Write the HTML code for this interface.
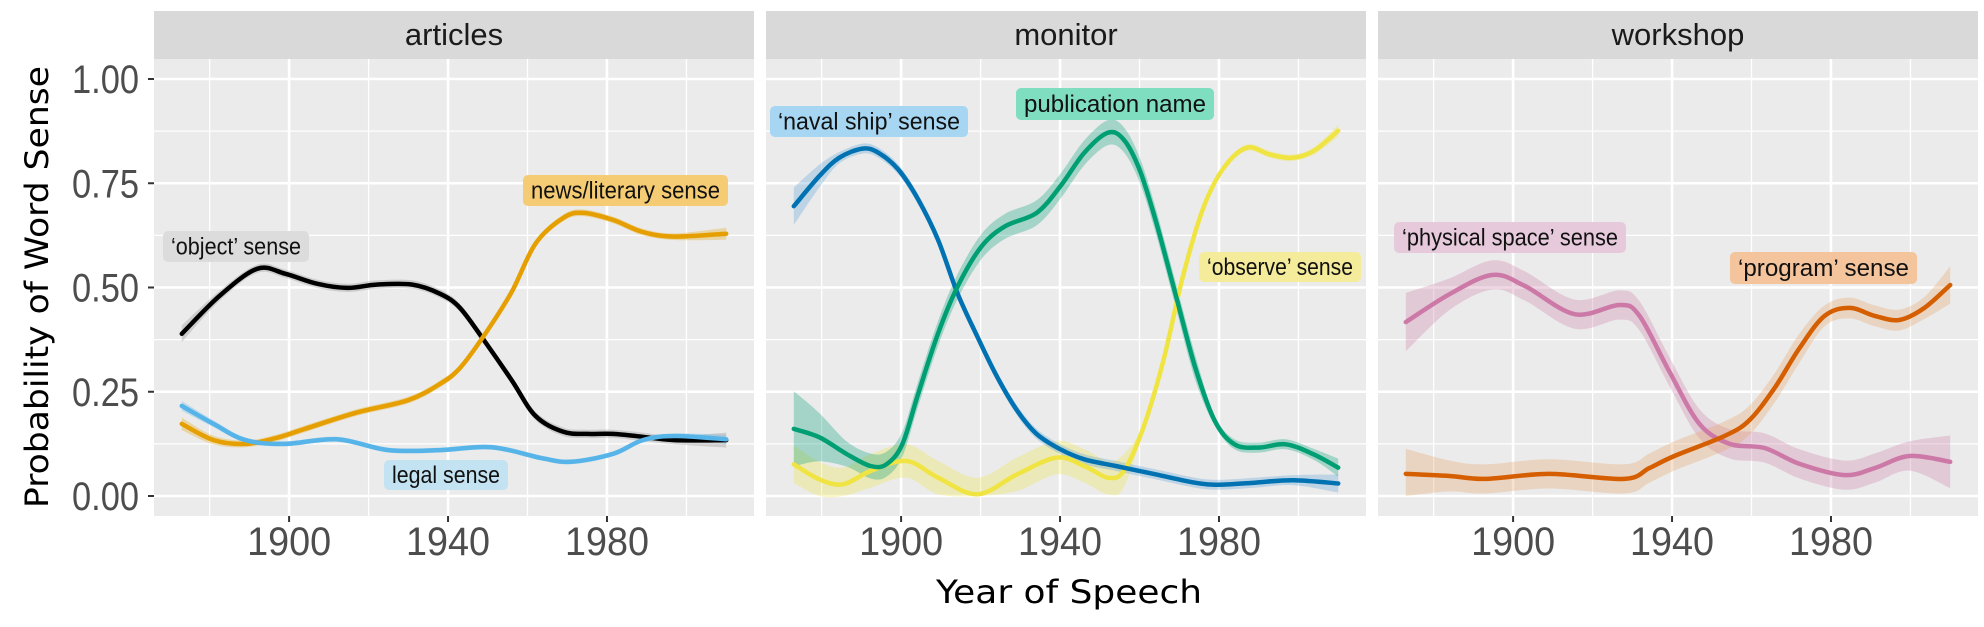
<!DOCTYPE html>
<html><head><meta charset="utf-8"><style>
html,body{margin:0;padding:0;background:#fff;}
svg{display:block;}
</style></head><body>
<svg id="chart" width="1984" height="627" xmlns="http://www.w3.org/2000/svg" font-family="Liberation Sans, sans-serif"></svg>
<script>
// ---- data ----
const panelNames = ["articles","monitor","workshop"];
const yTicks = [0, 0.25, 0.5, 0.75, 1.0];
const yTickLabels = ["0.00","0.25","0.50","0.75","1.00"];
const xTicks = [1900, 1940, 1980];
const xMinor = [1880, 1920, 1960, 2000];

const objYears = [1873,1882.5,1892,1899,1907,1914.7,1922,1931,1938,1943,1949,1956,1962,1969,1975,1981.5,1989,1997,2010];
const objVals  = [0.389,0.48,0.545,0.533,0.509,0.499,0.507,0.507,0.485,0.451,0.374,0.278,0.192,0.154,0.149,0.149,0.142,0.134,0.134];
const newsYears = [1873,1881,1889,1896.7,1904,1917,1930,1938,1943,1949,1956,1962,1969,1974,1981.5,1989,1997,2010];
const newsVals  = [0.173,0.134,0.125,0.139,0.161,0.2,0.23,0.269,0.307,0.384,0.489,0.605,0.667,0.679,0.662,0.633,0.622,0.629];
const legalYears = [1873,1881,1889,1899,1912,1925,1938,1951,1963.5,1971,1981.5,1989,1997,2010];
const legalVals  = [0.216,0.173,0.134,0.125,0.136,0.11,0.11,0.117,0.091,0.082,0.101,0.134,0.144,0.136];

const navalYears = [1873,1879.4,1884.4,1890.3,1894.3,1899.3,1904.3,1909.3,1914.2,1919.2,1924.2,1929.2,1934.1,1940.1,1946.1,1954,1964,1974,1980,1989,1998.8,2010];
const navalVals  = [0.695,0.767,0.811,0.833,0.823,0.783,0.711,0.614,0.486,0.382,0.285,0.205,0.149,0.112,0.088,0.072,0.052,0.032,0.027,0.032,0.038,0.03];
const pubYears = [1873,1879.4,1886.4,1892.3,1896.3,1900.3,1904.3,1909.3,1914.2,1920.2,1926.2,1934.1,1940.1,1946.1,1952,1956,1960,1964,1969,1974,1978.9,1983.9,1989.9,1996.8,2003.8,2010];
const pubVals  = [0.161,0.141,0.1,0.072,0.076,0.124,0.245,0.39,0.502,0.598,0.647,0.679,0.743,0.823,0.871,0.855,0.783,0.663,0.486,0.309,0.181,0.124,0.116,0.124,0.1,0.068];
const obsYears = [1873,1879.4,1885.4,1892.3,1901.3,1909.3,1919.2,1929.2,1939.1,1946.1,1952,1956,1961,1966,1970.9,1975.9,1980.9,1986.9,1992.8,1998.3,2003.8,2010];
const obsVals  = [0.076,0.04,0.028,0.06,0.084,0.044,0.004,0.052,0.092,0.072,0.044,0.06,0.165,0.325,0.526,0.687,0.783,0.835,0.819,0.811,0.827,0.876];

const physYears = [1873,1884,1894.7,1902.9,1915.5,1926.8,1931.8,1939.4,1946.9,1954.5,1963.3,1972.1,1983.4,1991,1999.7,2010];
const physVals  = [0.417,0.484,0.53,0.504,0.436,0.458,0.432,0.297,0.173,0.125,0.115,0.077,0.05,0.067,0.096,0.082];
const progYears = [1873,1884,1893,1909,1928,1934.3,1940.6,1953.2,1959.5,1965.8,1972.1,1978.4,1984.7,1991,1997.2,2003.5,2010];
const progVals  = [0.053,0.048,0.041,0.053,0.041,0.067,0.096,0.144,0.182,0.259,0.355,0.432,0.451,0.432,0.422,0.451,0.506];

const series = [
 {panel:0,name:"object-sense-line",years:objYears,vals:objVals,color:"#000000",band:"#888888",se:0.01,seStart:0.02,cut:3000,seLate:0.01},
 {panel:0,name:"news-literary-sense-line",years:newsYears,vals:newsVals,color:"#E69F00",band:"#E69F00",se:0.008,seStart:0.015,cut:3000,seLate:0.008},
 {panel:0,name:"legal-sense-line",years:legalYears,vals:legalVals,color:"#56B4E9",band:"#56B4E9",se:0.006,seStart:0.012,cut:3000,seLate:0.006},
 {panel:1,name:"observe-sense-line",years:obsYears,vals:obsVals,color:"#F0E442",band:"#F0E442",se:0.04,seStart:0.045,cut:1957,seLate:0.008},
 {panel:1,name:"naval-ship-sense-line",years:navalYears,vals:navalVals,color:"#0072B2",band:"#56A0D8",se:0.012,seStart:0.045,cut:3000,seLate:0.012},
 {panel:1,name:"publication-name-line",years:pubYears,vals:pubVals,color:"#009E73",band:"#009E73",se:0.03,seStart:0.09,cut:1975,seLate:0.012},
 {panel:2,name:"physical-space-sense-line",years:physYears,vals:physVals,color:"#CC79A7",band:"#CC79A7",se:0.035,seStart:0.07,cut:3000,seLate:0.035},
 {panel:2,name:"program-sense-line",years:progYears,vals:progVals,color:"#D55E00",band:"#E69F60",se:0.035,seStart:0.06,cut:1975,seLate:0.025}
];
const labels = [
 {panel:0,text:"\u2018object\u2019 sense",x:163,y:231,w:146,h:31,fill:"#DCDCDC",name:"object-sense-label"},
 {panel:0,text:"news/literary sense",x:523,y:175,w:205,h:31,fill:"#F5CC73",name:"news-literary-sense-label"},
 {panel:0,text:"legal sense",x:384,y:460,w:124,h:30,fill:"#C4E3F2",name:"legal-sense-label"},
 {panel:1,text:"\u2018naval ship\u2019 sense",x:770,y:106,w:198,h:31,fill:"#A6D6F2",name:"naval-ship-sense-label"},
 {panel:1,text:"publication name",x:1016,y:88,w:198,h:32,fill:"#7FDDC0",name:"publication-name-label"},
 {panel:1,text:"\u2018observe\u2019 sense",x:1199,y:252,w:162,h:30,fill:"#F4EC9A",name:"observe-sense-label"},
 {panel:2,text:"\u2018physical space\u2019 sense",x:1394,y:222,w:232,h:31,fill:"#E6CADB",name:"physical-space-sense-label"},
 {panel:2,text:"\u2018program\u2019 sense",x:1730,y:252,w:187,h:32,fill:"#F4C49C",name:"program-sense-label"}
];

// ---- layout ----
const NS="http://www.w3.org/2000/svg";
const svg=document.getElementById('chart');
const panelLeft=[154,766,1378], PW=600, PT=59, PB=516;
function xs(p,yr){return panelLeft[p]+(yr-1866)*PW/151;}
function ys(v){return 496-v*417;}
function mk(tag,attrs,parent){const e=document.createElementNS(NS,tag);for(const k in attrs)e.setAttribute(k,attrs[k]);(parent||svg).appendChild(e);return e;}
function smoothPath(pts){
  let d="M"+pts[0][0].toFixed(1)+","+pts[0][1].toFixed(1);
  for(let i=0;i<pts.length-1;i++){
    const p0=pts[Math.max(i-1,0)],p1=pts[i],p2=pts[i+1],p3=pts[Math.min(i+2,pts.length-1)];
    const c1=[p1[0]+(p2[0]-p0[0])/6,p1[1]+(p2[1]-p0[1])/6];
    const c2=[p2[0]-(p3[0]-p1[0])/6,p2[1]-(p3[1]-p1[1])/6];
    d+=" C"+c1[0].toFixed(1)+","+c1[1].toFixed(1)+" "+c2[0].toFixed(1)+","+c2[1].toFixed(1)+" "+p2[0].toFixed(1)+","+p2[1].toFixed(1);
  }
  return d;
}
function seAt(s,yr){
  let base = yr<s.cut ? s.se : s.seLate;
  if(yr<1885) base = s.seStart + (base-s.seStart)*(yr-1873)/12;
  if(yr>2003) base = base*(1+0.8*(yr-2003)/7);
  return base;
}

for(let p=0;p<3;p++){
  const L=panelLeft[p];
  const strip=mk('rect',{x:L,y:11,width:PW,height:48,fill:"#D9D9D9"});
  
  
  const st=mk('text',{x:L+PW/2,y:45,'text-anchor':'middle','font-size':31,fill:"#1A1A1A"});
  st.textContent=panelNames[p];
  
  
  const bg=mk('rect',{x:L,y:PT,width:PW,height:PB-PT,fill:"#EBEBEB"});
  
  
  for(let i=0;i<yTicks.length-1;i++){
    const v=(yTicks[i]+yTicks[i+1])/2;
    const g=mk('line',{x1:L,x2:L+PW,y1:ys(v),y2:ys(v),stroke:"#fff","stroke-width":1.3});
    
    
  }
  xMinor.forEach(yr=>{
    const g=mk('line',{x1:xs(p,yr),x2:xs(p,yr),y1:PT,y2:PB,stroke:"#fff","stroke-width":1.3});
    
    
  });
  yTicks.forEach(v=>{
    const g=mk('line',{x1:L,x2:L+PW,y1:ys(v),y2:ys(v),stroke:"#fff","stroke-width":2.6});
    
    
  });
  xTicks.forEach((yr,i)=>{
    const g=mk('line',{x1:xs(p,yr),x2:xs(p,yr),y1:PT,y2:PB,stroke:"#fff","stroke-width":2.6});
    
    
    const t=mk('line',{x1:xs(p,yr),x2:xs(p,yr),y1:PB,y2:PB+6,stroke:"#333","stroke-width":2});
    
    
    const tl=mk('text',{x:xs(p,yr),y:555,'text-anchor':'middle','font-size':40,fill:"#4D4D4D",textLength:84,lengthAdjust:"spacingAndGlyphs"});
    tl.textContent=String(yr);
    
    
  });
}
yTicks.forEach((v,i)=>{
  const t=mk('line',{x1:148,x2:154,y1:ys(v),y2:ys(v),stroke:"#333","stroke-width":2});
  
  
  const tl=mk('text',{x:72,y:ys(v)+14,'font-size':40,fill:"#4D4D4D",textLength:67,lengthAdjust:"spacingAndGlyphs"});
  tl.textContent=yTickLabels[i];
  
  
});

series.forEach(s=>{
  const up=s.years.map((y,i)=>[xs(s.panel,y),ys(s.vals[i]+seAt(s,y))]);
  const lo=s.years.map((y,i)=>[xs(s.panel,y),ys(Math.max(0,s.vals[i]-seAt(s,y)))]).reverse();
  const dUp=smoothPath(up), dLo=smoothPath(lo).replace(/^M/,"L");
  const band=mk('path',{d:dUp+" "+dLo+" Z",fill:s.band,'fill-opacity':0.3,stroke:"none"});
  
  
});
series.forEach(s=>{
  const pts=s.years.map((y,i)=>[xs(s.panel,y),ys(s.vals[i])]);
  const line=mk('path',{d:smoothPath(pts),fill:"none",stroke:s.color,'stroke-width':4.5,'stroke-linecap':'round'});
  
  
});
labels.forEach(l=>{
  const r=mk('rect',{x:l.x,y:l.y,width:l.w,height:l.h,rx:5,fill:l.fill});
  
  
  const t=mk('text',{x:l.x+8,y:l.y+l.h/2+8,'font-size':24,fill:"#111",textLength:l.w-16,lengthAdjust:"spacingAndGlyphs"});
  t.textContent=l.text;
  
  
});
const yt=mk('text',{x:0,y:0,transform:"translate(48,287) rotate(-90)",'text-anchor':'middle','font-size':32,'font-family':'DejaVu Sans, sans-serif',fill:"#000",textLength:442,lengthAdjust:"spacingAndGlyphs"});
yt.textContent="Probability of Word Sense";


const xt=mk('text',{x:1069,y:603,'text-anchor':'middle','font-size':32,'font-family':'DejaVu Sans, sans-serif',fill:"#000",textLength:266,lengthAdjust:"spacingAndGlyphs"});
xt.textContent="Year of Speech";


</script>
</body></html>
